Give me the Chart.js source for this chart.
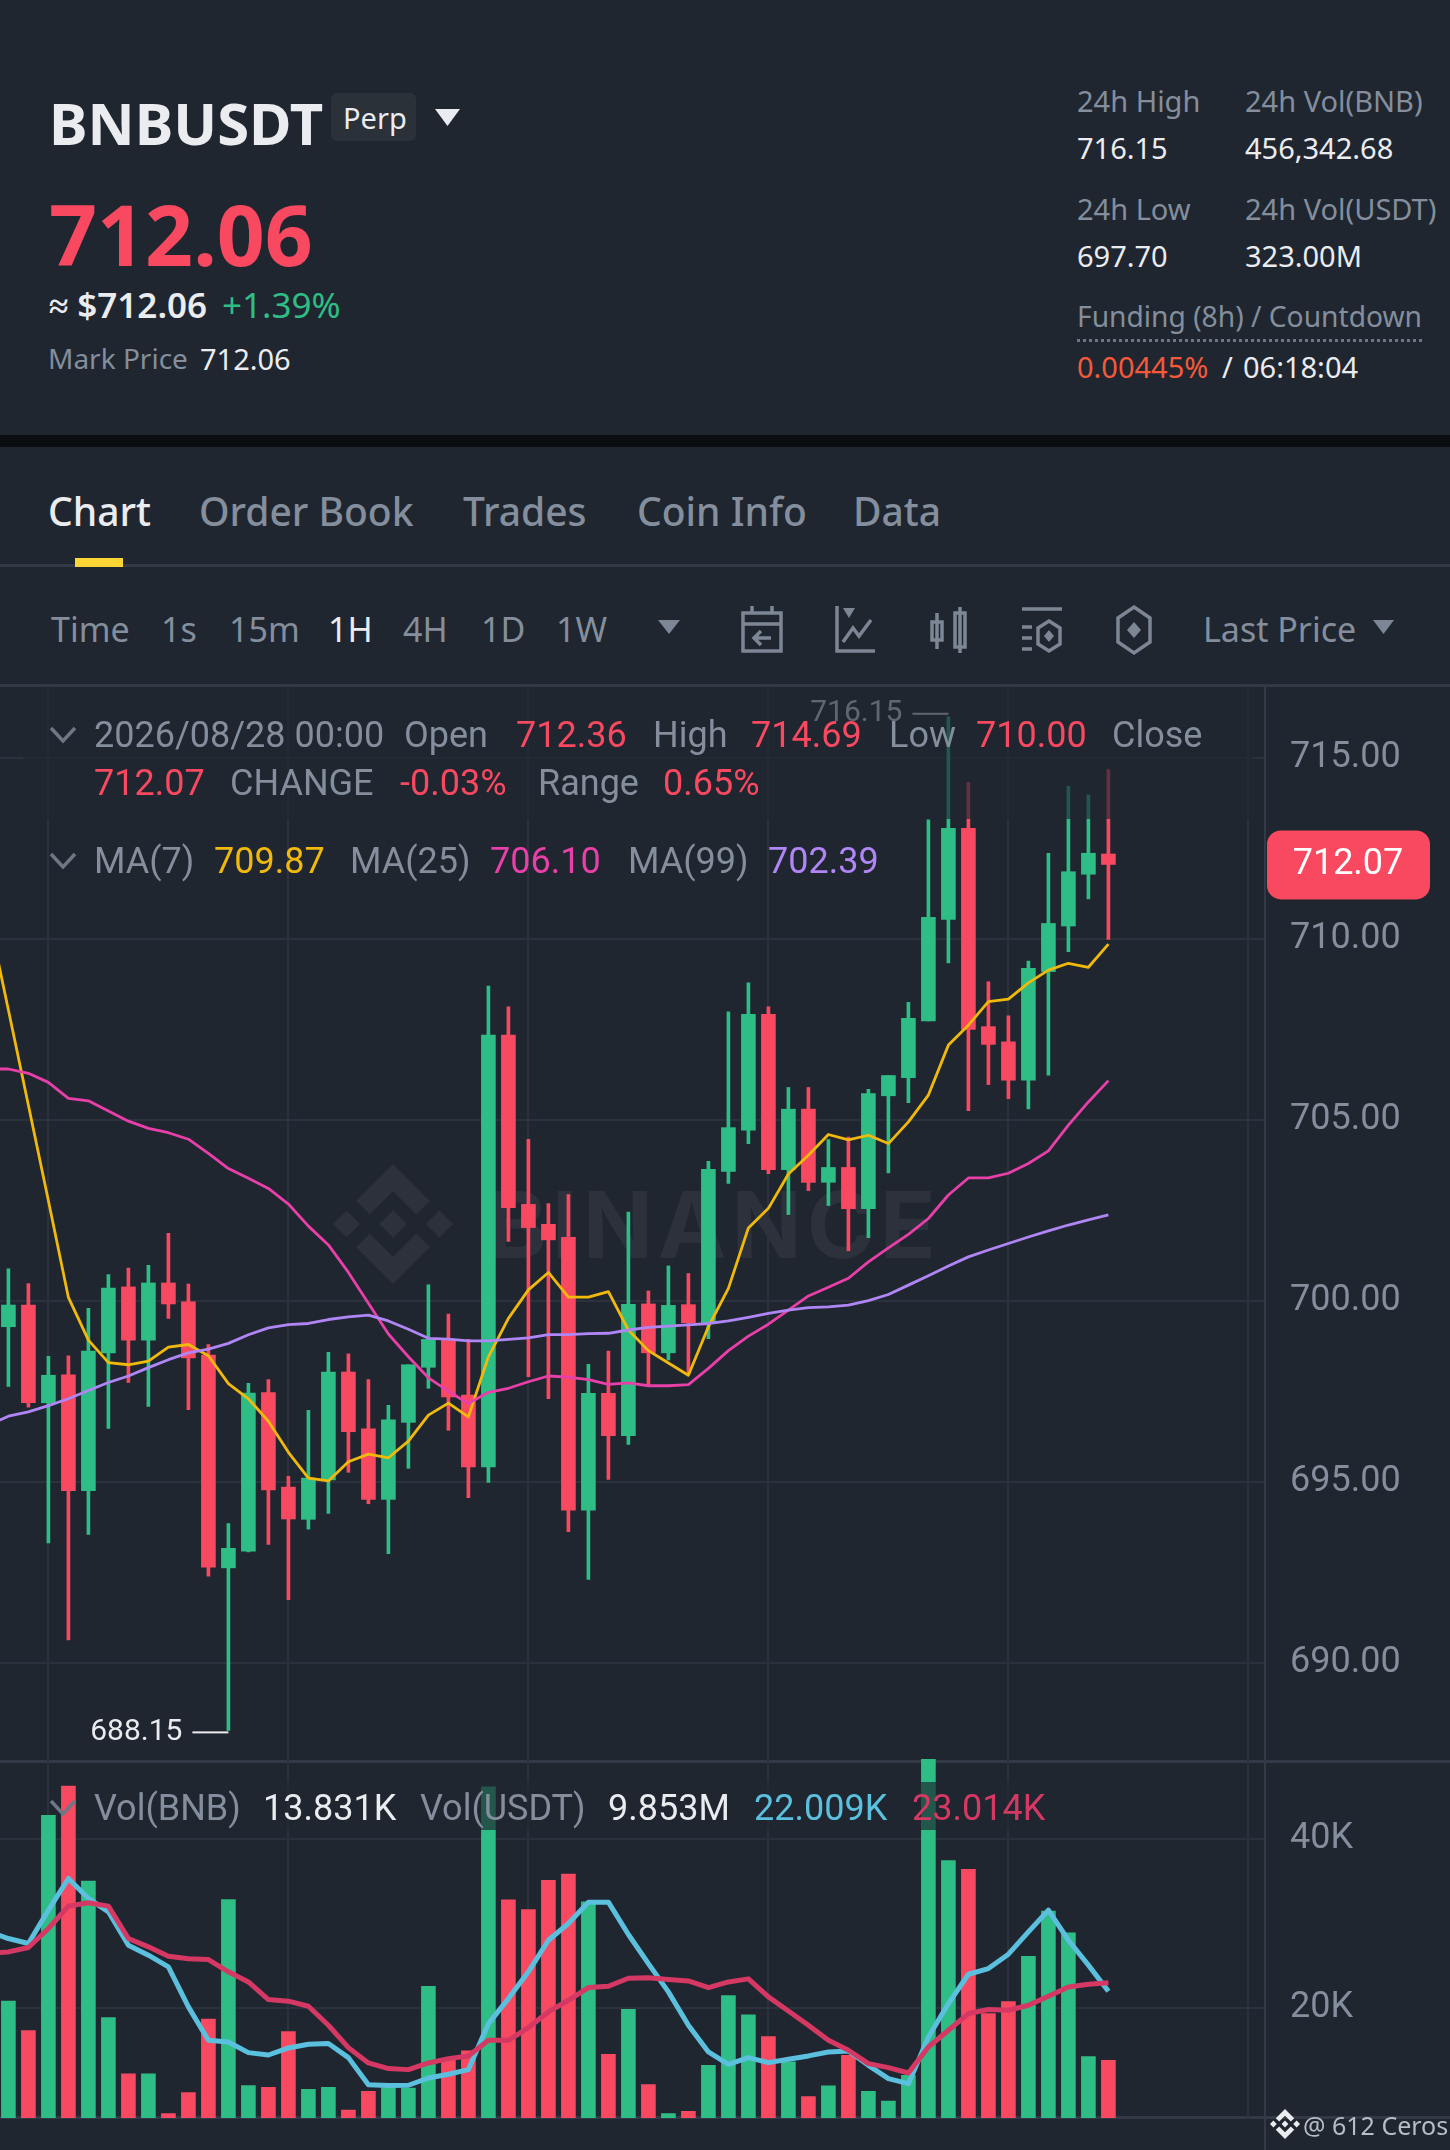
<!DOCTYPE html>
<html>
<head>
<meta charset="utf-8">
<title>BNBUSDT Perp</title>
<script src="https://cdn.jsdelivr.net/npm/chart.js@4"></script>
<style>
    html, body { margin: 0; padding: 0; background: #1f2630; }
    #page { position: relative; width: 1450px; height: 2150px; overflow: hidden; background: #1f2630; }
    #page > * { position: absolute; }
    .txt { white-space: pre; line-height: 1; transform: translateY(-50%); }
    .line { background: #333a47; }
    .dim { background: rgba(31, 38, 48, 0.68); }
    svg { overflow: visible; }
</style>
</head>
<body>
<div id="page">
    <!-- black band between the ticker and the tabs -->
    <div style="left:0;top:435px;width:1450px;height:12px;background:#0b0e11"></div>
    <div class="line" style="left:0;top:564px;width:1450px;height:3px"></div>
    <div style="left:75px;top:558px;width:48px;height:9px;background:#fcd535"></div>
    <div class="line" style="left:0;top:684px;width:1450px;height:3px"></div>
    <div style="left:331px;top:93px;width:85px;height:48px;background:#2b3139;border-radius:6px"></div>
    <div style="left:1077px;top:339px;width:345px;border-bottom:3px dotted #6f7785"></div>

    <!-- watermark sits under the candles -->
    <svg style="left:333px;top:1164px" width="120" height="120" viewBox="0 0 126.61 126.61">
        <path fill="#2c313c" d="M38.73 53.2L63.3 28.63l24.59 24.59 14.3-14.3L63.3 0 24.43 38.9zM0 63.31l14.3-14.3 14.3 14.3-14.3 14.3zM38.73 73.41l24.57 24.57 24.59-24.59 14.31 14.29-38.9 38.91-38.91-38.88zM98.01 63.31l14.3-14.3 14.3 14.3-14.3 14.3zM77.84 63.3L63.3 48.75 52.54 59.51l-1.24 1.23-2.55 2.55 14.55 14.55 14.54-14.55z"/>
    </svg>
    <div class="txt" style="left:486px;top:1224px;font:700 92px Inter;letter-spacing:5px;color:#2c313c">BINANCE</div>

    <div class="line" style="left:0;top:1760px;width:1450px;height:3px"></div>
    <div class="line" style="left:0;top:2116px;width:1450px;height:3px"></div>
    <div class="line" style="left:1264px;top:2118px;width:2px;height:32px"></div>

    <canvas id="priceChart" width="1450" height="1069" style="left:0;top:686px"></canvas>
    <canvas id="volChart" width="1450" height="363" style="left:0;top:1755px"></canvas>

    <div class="dim" style="left:23px;top:687px;width:1230px;height:132px"></div>
    <div class="dim" style="left:87px;top:1782px;width:968px;height:48px"></div>

    <!-- triangles and toolbar icons -->
    <svg style="left:435px;top:109px" width="25" height="17"><path d="M0 0H25L12.5 17Z" fill="#eaecef"/></svg>
    <svg style="left:658px;top:620px" width="22" height="14"><path d="M0 0H22L11 14Z" fill="#7d8694"/></svg>
    <svg style="left:1373px;top:620px" width="21" height="14"><path d="M0 0H21L10.5 14Z" fill="#7d8694"/></svg>
    <svg style="left:741px;top:606px" width="44" height="48" fill="none" stroke="#7d8694" stroke-width="3.5">
        <rect x="2" y="7" width="38" height="38"/><path d="M2 18H40M11 0V7M31 0V7M30 32H14M20 25l-7 7 7 7"/>
    </svg>
    <svg style="left:835px;top:606px" width="42" height="48" fill="none" stroke="#7d8694" stroke-width="3.5">
        <path d="M2 0V45H40M8 36L18 22 24 30 36 14"/><path d="M8 2H20L14 12Z" fill="#7d8694" stroke="none"/>
    </svg>
    <svg style="left:930px;top:607px" width="38" height="48" fill="none" stroke="#7d8694" stroke-width="3.5">
        <rect x="2" y="15" width="10" height="18"/><rect x="25" y="6" width="10" height="34"/><path d="M7 6V42M30 0V46"/>
    </svg>
    <svg style="left:1020px;top:606px" width="44" height="48" fill="none" stroke="#7d8694" stroke-width="3.5">
        <path d="M2 3H42M2 21H12M2 32H12M2 43H12"/><path d="M29 15L40 22V38L29 45 18 38V22Z"/><path d="M29 24L34 30 29 36 24 30Z" fill="#7d8694" stroke="none"/>
    </svg>
    <svg style="left:1116px;top:606px" width="38" height="48" fill="none" stroke="#7d8694" stroke-width="3.5">
        <path d="M18 1L34 12V36L18 47 2 36V12Z"/><path d="M18 16L25 24 18 32 11 24Z" fill="#7d8694" stroke="none"/>
    </svg>
    <svg style="left:1270px;top:2109px" width="30" height="30" viewBox="0 0 126.61 126.61">
        <path fill="#eaecef" d="M38.73 53.2L63.3 28.63l24.59 24.59 14.3-14.3L63.3 0 24.43 38.9zM0 63.31l14.3-14.3 14.3 14.3-14.3 14.3zM38.73 73.41l24.57 24.57 24.59-24.59 14.31 14.29-38.9 38.91-38.91-38.88zM98.01 63.31l14.3-14.3 14.3 14.3-14.3 14.3zM77.84 63.3L63.3 48.75 52.54 59.51l-1.24 1.23-2.55 2.55 14.55 14.55 14.54-14.55z"/>
    </svg>
</div>

<script>
// candles, oldest first
const openPrices = [699.30, 699.90, 697.20, 697.97, 694.77, 698.58, 700.40, 698.93, 700.51, 699.99, 698.52, 692.64, 693.10, 697.48, 694.87, 693.98, 695.07, 698.05, 696.48, 694.53, 696.66, 698.18, 698.93, 697.41, 695.43, 707.36, 702.68, 702.13, 701.77, 694.23, 697.46, 696.29, 699.93, 698.58, 699.91, 699.41, 703.59, 704.73, 707.93, 703.64, 705.31, 703.29, 703.70, 702.56, 705.68, 706.18, 707.75, 710.55, 713.07, 707.59, 707.17, 706.11, 709.11, 710.37, 711.80, 712.36];
const highPrices = [700.90, 700.49, 698.48, 698.50, 699.81, 700.74, 700.92, 701.00, 701.88, 700.48, 698.81, 693.86, 697.74, 697.84, 695.17, 696.99, 698.59, 698.55, 697.84, 697.13, 698.25, 700.46, 699.65, 698.95, 708.71, 708.14, 704.48, 702.70, 702.95, 698.26, 698.63, 702.47, 700.29, 700.98, 700.77, 703.87, 708.00, 708.80, 708.14, 705.91, 705.91, 704.47, 704.54, 705.86, 706.24, 708.26, 713.30, 716.15, 714.34, 708.83, 707.89, 709.40, 712.38, 714.23, 713.99, 714.69];
const lowPrices = [697.65, 697.08, 693.33, 690.65, 693.56, 696.49, 697.76, 697.10, 699.53, 697.01, 692.41, 688.15, 693.08, 693.29, 691.76, 693.71, 694.14, 695.28, 694.41, 693.03, 695.39, 697.60, 696.44, 694.58, 695.00, 701.66, 697.92, 697.31, 693.64, 692.32, 695.08, 696.05, 697.68, 698.38, 698.01, 698.97, 703.26, 704.36, 703.53, 702.40, 703.06, 702.65, 701.40, 701.76, 703.55, 705.49, 707.75, 709.35, 705.27, 705.99, 705.60, 705.32, 706.25, 709.66, 711.12, 710.00];
const closePrices = [699.90, 697.20, 697.96, 694.77, 698.63, 700.37, 698.93, 700.51, 699.93, 698.44, 692.66, 693.18, 697.47, 694.79, 693.99, 695.12, 698.05, 696.40, 694.53, 696.73, 698.25, 698.95, 697.36, 695.43, 707.36, 702.59, 702.04, 701.70, 694.23, 697.46, 696.29, 699.92, 698.58, 699.89, 699.41, 703.65, 704.80, 707.93, 703.64, 705.31, 703.29, 703.70, 702.56, 705.74, 706.24, 707.82, 710.61, 713.07, 707.51, 707.10, 706.11, 709.20, 710.44, 711.87, 712.38, 712.07];

// moving averages start one candle left of the screen
const ma7 = [710.67, 708.05, 705.42, 702.78, 700.11, 698.93, 698.31, 698.25, 698.35, 698.74, 698.81, 698.50, 697.73, 697.31, 696.69, 695.83, 695.12, 695.04, 695.57, 695.78, 695.68, 696.14, 696.86, 697.19, 696.81, 698.47, 699.53, 700.32, 700.80, 700.12, 700.12, 700.27, 699.21, 698.64, 698.30, 697.96, 699.30, 700.36, 702.03, 702.57, 703.52, 704.04, 704.61, 704.46, 704.59, 704.36, 704.96, 705.70, 707.08, 707.63, 708.28, 708.35, 708.80, 709.15, 709.34, 709.23, 709.87];
const ma25 = [706.42, 706.42, 706.30, 706.05, 705.61, 705.54, 705.26, 704.98, 704.78, 704.66, 704.48, 704.09, 703.67, 703.40, 703.12, 702.69, 702.08, 701.56, 700.80, 699.95, 699.10, 698.47, 697.89, 697.52, 697.18, 697.49, 697.60, 697.78, 697.94, 697.91, 697.84, 697.71, 697.75, 697.67, 697.67, 697.70, 698.15, 698.64, 699.04, 699.37, 699.76, 700.15, 700.39, 700.64, 701.09, 701.48, 701.85, 702.29, 702.94, 703.41, 703.41, 703.54, 703.81, 704.16, 704.87, 705.51, 706.10];
const ma99 = [696.58, 696.83, 696.95, 697.12, 697.31, 697.54, 697.76, 697.94, 698.17, 698.39, 698.58, 698.68, 698.84, 699.08, 699.27, 699.36, 699.39, 699.50, 699.57, 699.62, 699.46, 699.23, 698.98, 698.96, 698.91, 698.91, 698.95, 698.99, 699.08, 699.08, 699.11, 699.12, 699.21, 699.28, 699.32, 699.35, 699.39, 699.46, 699.56, 699.67, 699.76, 699.83, 699.85, 699.90, 700.02, 700.19, 700.45, 700.71, 700.98, 701.23, 701.42, 701.60, 701.78, 701.95, 702.11, 702.25, 702.39];

// volume in thousands of BNB
const volumes = [20.83, 17.35, 42.80, 46.27, 35.03, 18.89, 12.23, 12.23, 7.53, 10.02, 18.73, 32.86, 10.85, 10.65, 17.24, 10.41, 10.65, 7.97, 10.17, 10.61, 10.57, 22.60, 14.04, 14.95, 46.19, 32.82, 31.67, 35.11, 35.86, 32.58, 14.55, 19.88, 10.96, 7.53, 7.81, 13.25, 21.50, 19.21, 16.64, 13.65, 9.54, 10.81, 14.44, 10.17, 9.03, 12.07, 49.43, 37.47, 36.41, 19.37, 20.79, 26.15, 31.48, 28.91, 14.28, 13.83];
const volMaShort = [29.03, 28.24, 27.65, 31.60, 35.34, 32.98, 31.40, 27.45, 26.27, 24.89, 20.16, 16.21, 16.01, 14.75, 14.47, 15.30, 15.74, 15.82, 14.16, 10.96, 10.85, 10.89, 11.75, 12.19, 12.74, 18.18, 21.14, 24.30, 28.04, 30.02, 32.54, 32.54, 28.72, 25.28, 21.93, 17.99, 14.83, 13.37, 14.16, 13.57, 13.96, 14.36, 14.83, 14.95, 13.25, 11.67, 11.08, 16.60, 20.55, 24.02, 24.69, 26.39, 29.03, 31.60, 28.04, 25.09, 22.01];
const volMaLong = [26.47, 26.66, 27.18, 29.43, 32.07, 32.46, 32.07, 28.24, 27.26, 26.15, 25.84, 25.76, 24.30, 23.11, 21.02, 20.83, 20.23, 17.99, 15.34, 13.53, 12.86, 12.74, 13.53, 14.04, 14.36, 16.21, 16.21, 17.71, 19.56, 20.94, 22.44, 22.60, 23.55, 23.59, 23.39, 23.23, 22.44, 23.11, 23.47, 21.34, 19.68, 17.99, 16.21, 15.03, 13.45, 12.98, 12.34, 15.42, 17.39, 19.37, 19.84, 19.76, 20.35, 21.42, 22.52, 22.84, 23.01];

const priceTicks = [690, 695, 700, 705, 710, 715];
const volTicks = [20, 40];
const timeTicks = [2, 14, 26, 38, 50, 62];

const UP = '#2ebd85';
const DOWN = '#f84960';
const GRID = '#2b323d';
const MUTED = '#848e9c';
const WHITE = '#eaecef';
const SANS = '"Noto Sans"';
const CHART_FONT = 'Roboto';

const candleColors = closePrices.map((c, i) => (c >= openPrices[i] ? UP : DOWN));
const lastClose = closePrices[closePrices.length - 1];

// [text, left, centre y, size, colour, weight, family]
const texts = [
    ['BNBUSDT', 49, 122, 58, WHITE, 700, SANS],
    ['Perp', 343, 117, 29, WHITE, 400, SANS],
    ['712.06', 49, 233, 84, DOWN, 700, SANS],
    ['≈ $712.06', 49, 304, 35, WHITE, 600, SANS],
    ['+1.39%', 222, 304, 35, UP, 400, SANS],
    ['Mark Price', 48, 358, 28, MUTED, 400, SANS],
    ['712.06', 200, 358, 29, WHITE, 400, SANS],
    ['24h High', 1077, 100, 29, MUTED, 400, SANS],
    ['24h Vol(BNB)', 1245, 100, 29, MUTED, 400, SANS],
    ['716.15', 1077, 147, 29, WHITE, 400, SANS],
    ['456,342.68', 1245, 147, 29, WHITE, 400, SANS],
    ['24h Low', 1077, 208, 29, MUTED, 400, SANS],
    ['24h Vol(USDT)', 1245, 208, 29, MUTED, 400, SANS],
    ['697.70', 1077, 255, 29, WHITE, 400, SANS],
    ['323.00M', 1245, 255, 29, WHITE, 400, SANS],
    ['Funding (8h) / Countdown', 1077, 316, 28.2, MUTED, 400, SANS],
    ['0.00445%', 1077, 366, 29, '#f6593a', 400, SANS],
    ['/', 1222, 366, 29, WHITE, 400, SANS],
    ['06:18:04', 1243, 366, 29, WHITE, 400, SANS],
    ['Chart', 48, 510, 39, WHITE, 500, SANS],
    ['Order Book', 199, 510, 39, MUTED, 500, SANS],
    ['Trades', 463, 510, 39, MUTED, 500, SANS],
    ['Coin Info', 637, 510, 39, MUTED, 500, SANS],
    ['Data', 853, 510, 39, MUTED, 500, SANS],
    ['Time', 51, 629, 34, MUTED, 400, SANS],
    ['1s', 161, 629, 34, MUTED, 400, SANS],
    ['15m', 229, 629, 34, MUTED, 400, SANS],
    ['1H', 328, 629, 34, WHITE, 400, SANS],
    ['4H', 403, 629, 34, MUTED, 400, SANS],
    ['1D', 481, 629, 34, MUTED, 400, SANS],
    ['1W', 556, 629, 34, MUTED, 400, SANS],
    ['Last Price', 1203, 629, 34, MUTED, 400, SANS],
    ['2026/08/28 00:00', 94, 735, 36, MUTED, 400, CHART_FONT],
    ['Open', 404, 735, 36, MUTED, 400, CHART_FONT],
    ['712.36', 516, 735, 36, DOWN, 400, CHART_FONT],
    ['High', 653, 735, 36, MUTED, 400, CHART_FONT],
    ['714.69', 751, 735, 36, DOWN, 400, CHART_FONT],
    ['Low', 889, 735, 36, MUTED, 400, CHART_FONT],
    ['710.00', 976, 735, 36, DOWN, 400, CHART_FONT],
    ['Close', 1112, 735, 36, MUTED, 400, CHART_FONT],
    ['712.07', 94, 783, 36, DOWN, 400, CHART_FONT],
    ['CHANGE', 230, 783, 36, MUTED, 400, CHART_FONT],
    ['-0.03%', 400, 783, 36, DOWN, 400, CHART_FONT],
    ['Range', 538, 783, 36, MUTED, 400, CHART_FONT],
    ['0.65%', 663, 783, 36, DOWN, 400, CHART_FONT],
    ['MA(7)', 94, 861, 36, MUTED, 400, CHART_FONT],
    ['709.87', 214, 861, 36, '#f0b90b', 400, CHART_FONT],
    ['MA(25)', 350, 861, 36, MUTED, 400, CHART_FONT],
    ['706.10', 490, 861, 36, '#e83fa8', 400, CHART_FONT],
    ['MA(99)', 628, 861, 36, MUTED, 400, CHART_FONT],
    ['702.39', 768, 861, 36, '#b085f5', 400, CHART_FONT],
    ['Vol(BNB)', 94, 1808, 36, MUTED, 400, CHART_FONT],
    ['13.831K', 263, 1808, 36, WHITE, 400, CHART_FONT],
    ['Vol(USDT)', 420, 1808, 36, MUTED, 400, CHART_FONT],
    ['9.853M', 608, 1808, 36, WHITE, 400, CHART_FONT],
    ['22.009K', 754, 1808, 36, '#5bc0de', 400, CHART_FONT],
    ['23.014K', 912, 1808, 36, '#d63864', 400, CHART_FONT],
    ['@ 612 Ceros', 1303, 2125, 25, '#b7bdc6', 400, SANS],
];

const chevrons = [[49, 726], [49, 852], [49, 1799]];

const page = document.getElementById('page');
texts.forEach(([text, x, y, size, color, weight, family]) => {
    const el = document.createElement('div');
    el.className = 'txt';
    el.textContent = text;
    el.style.cssText = `left:${x}px;top:${y}px;font:${weight} ${size}px ${family};color:${color}`;
    page.appendChild(el);
});

chevrons.forEach(([x, y]) => {
    const svg = document.createElementNS('http://www.w3.org/2000/svg', 'svg');
    svg.setAttribute('width', 28);
    svg.setAttribute('height', 18);
    svg.style.cssText = `left:${x}px;top:${y}px`;
    svg.innerHTML = '<path d="M2 2L14 15 26 2" fill="none" stroke="#6f7785" stroke-width="3.5"/>';
    page.appendChild(svg);
});

// no room kept for half a tick label, the plot fills the canvas
const noPadding = () => ({ left: 0, right: 0, top: 0, bottom: 0 });

function xScale() {
    return {
        type: 'linear',
        min: -0.42,
        max: 62.83,
        offset: false,
        border: { display: false },
        grid: { color: GRID, lineWidth: 2, drawTicks: false, offset: false },
        ticks: { display: false },
        afterBuildTicks: s => { s.ticks = timeTicks.map(v => ({ value: v })); },
        afterFit: s => { s.height = 0; s.getPadding = noPadding; },
    };
}

function yScale(min, max, ticks, format) {
    return {
        position: 'right',
        min,
        max,
        border: { display: true, color: '#333a47', width: 2 },
        grid: { color: GRID, lineWidth: 2, drawTicks: false },
        ticks: { color: MUTED, padding: 25, font: { family: CHART_FONT, size: 36 }, callback: format },
        afterBuildTicks: s => { s.ticks = ticks.map(v => ({ value: v })); },
        afterFit: s => { s.width = 185; s.getPadding = noPadding; },
    };
}

function lineSet(values, color, width) {
    return {
        type: 'line',
        data: values.map((v, i) => ({ x: i - 1, y: v })),
        borderColor: color,
        borderWidth: width,
        pointRadius: 0,
        tension: 0,
        borderJoinStyle: 'round',
        order: 1,
    };
}

function rangeBars(fromValues, toValues, thickness, order) {
    return {
        data: fromValues.map((v, i) => ({ x: i, y: [v, toValues[i]] })),
        backgroundColor: candleColors,
        barThickness: thickness,
        grouped: false,
        order,
    };
}

// high / low markers and the last price tag
const priceMarks = {
    id: 'priceMarks',
    afterDatasetsDraw(chart) {
        const { ctx, scales: { x, y } } = chart;
        const mark = (values, pick, dy, color) => {
            const value = pick(...values);
            const px = x.getPixelForValue(values.indexOf(value));
            const py = y.getPixelForValue(value) + dy;
            ctx.fillStyle = color;
            ctx.fillRect(px - 36, py - 1, 36, 2);
            ctx.font = '30px ' + CHART_FONT;
            ctx.textAlign = 'right';
            ctx.textBaseline = 'middle';
            ctx.fillText(value.toFixed(2), px - 46, py);
        };
        ctx.save();
        mark(highPrices, Math.max, -3, WHITE);
        mark(lowPrices, Math.min, 2, WHITE);

        const tagY = y.getPixelForValue(lastClose);
        ctx.fillStyle = DOWN;
        ctx.beginPath();
        ctx.roundRect(1267, tagY - 34, 163, 69, 14);
        ctx.fill();
        ctx.fillStyle = '#ffffff';
        ctx.font = '36px ' + CHART_FONT;
        ctx.textAlign = 'center';
        ctx.fillText(lastClose.toFixed(2), 1348, tagY + 1);
        ctx.restore();
    },
};

const common = {
    responsive: false,
    animation: false,
    events: [],
    layout: { padding: 0, autoPadding: false },
    plugins: { legend: { display: false }, tooltip: { enabled: false } },
};

new Chart(document.getElementById('priceChart'), {
    type: 'bar',
    data: {
        datasets: [
            lineSet(ma99, '#b085f5', 2.8),
            lineSet(ma25, '#e83fa8', 2.8),
            lineSet(ma7, '#f0b90b', 2.8),
            rangeBars(openPrices, closePrices, 14, 2),
            rangeBars(lowPrices, highPrices, 3, 3),
        ],
    },
    options: {
        ...common,
        scales: {
            x: xScale(),
            y: yScale(687.47, 717.0, priceTicks, v => v.toFixed(2)),
        },
    },
    plugins: [priceMarks],
});

new Chart(document.getElementById('volChart'), {
    type: 'bar',
    data: {
        datasets: [
            lineSet(volMaLong, '#d63864', 5),
            lineSet(volMaShort, '#5bc0de', 5),
            {
                data: volumes.map((v, i) => ({ x: i, y: v })),
                backgroundColor: candleColors,
                barThickness: 14,
                order: 2,
            },
        ],
    },
    options: {
        ...common,
        scales: {
            x: xScale(),
            y: yScale(7.02, 49.94, volTicks, v => v + 'K'),
        },
    },
});
</script>
</body>
</html>
